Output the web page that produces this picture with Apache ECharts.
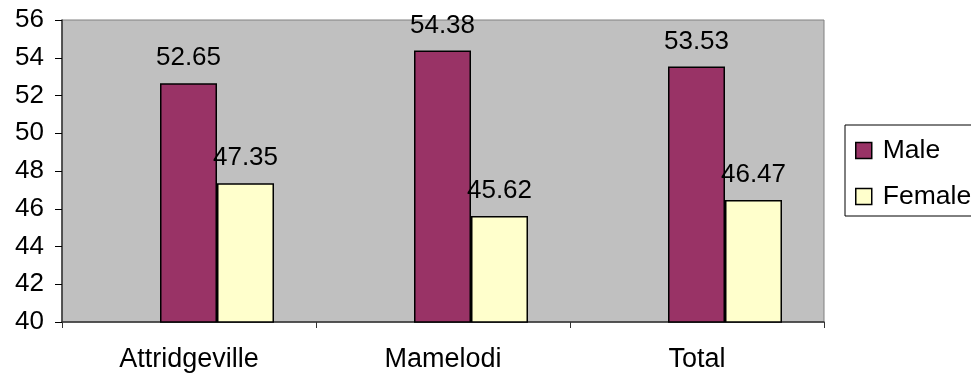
<!DOCTYPE html>
<html>
<head>
<meta charset="utf-8">
<script src="https://cdn.jsdelivr.net/npm/echarts@6/dist/echarts.min.js"></script>
<style>
  html, body { margin: 0; padding: 0; background: #fff; }
  #chart { width: 971px; height: 374px; }
</style>
</head>
<body>
<div id="chart"></div>
<script>
// Share of respondents by sex in each area (%)
const categories = ['Attridgeville', 'Mamelodi', 'Total'];
const maleValues = [52.65, 54.38, 53.53];
const femaleValues = [47.35, 45.62, 46.47];
const yTicks = { min: 40, max: 56, interval: 2 };

const FONT = 'Liberation Sans, Arial, sans-serif';
const FS = 26;

const chart = echarts.init(document.getElementById('chart'));

const labelStyle = {
  show: true,
  position: 'top',
  distance: 12,
  color: '#000',
  fontSize: FS,
  fontFamily: FONT,
  formatter: p => p.value.toFixed(2)
};

chart.setOption({
  animation: false,
  textStyle: { fontFamily: FONT },
  grid: {
    left: 62, right: 147, top: 20, bottom: 52,
    show: true,
    backgroundColor: '#c0c0c0',
    borderColor: '#808080',
    borderWidth: 1
  },
  legend: {
    orient: 'vertical',
    left: 845,
    top: 125,
    padding: [12, 60, 6, 10],
    itemGap: 19,
    itemWidth: 16,
    itemHeight: 16,
    icon: 'rect',
    borderColor: '#000',
    borderWidth: 1,
    backgroundColor: '#fff',
    textStyle: { fontSize: 26.5, color: '#000', fontFamily: FONT, padding: [0, 0, 0, 6] },
    itemStyle: { borderColor: '#000', borderWidth: 1.5 },
    data: ['Male', 'Female']
  },
  xAxis: {
    type: 'category',
    data: categories,
    boundaryGap: true,
    axisLine: { lineStyle: { color: '#333', width: 1.5 } },
    axisTick: { show: true, alignWithLabel: false, length: 6, lineStyle: { color: '#333' } },
    axisLabel: { fontSize: 27, color: '#000', margin: 24, fontFamily: FONT },
    splitLine: { show: false }
  },
  yAxis: {
    type: 'value',
    min: yTicks.min,
    max: yTicks.max,
    interval: yTicks.interval,
    axisLine: { show: true, lineStyle: { color: '#333', width: 1.5 } },
    axisTick: { show: true, length: 7, lineStyle: { color: '#000' } },
    axisLabel: { fontSize: FS, color: '#000', margin: 18, fontFamily: FONT },
    splitLine: { show: false }
  },
  series: [
    {
      // empty slot that sits left of the pair inside each category
      name: 'gap',
      type: 'bar',
      data: categories.map(() => null),
      barWidth: 56,
      barGap: '0%',
      silent: true,
      itemStyle: { color: 'transparent' }
    },
    {
      name: 'Male',
      type: 'bar',
      data: maleValues,
      barWidth: 57,
      barGap: '0%',
      itemStyle: { color: '#993366', borderColor: '#000', borderWidth: 1.5 },
      label: labelStyle
    },
    {
      name: 'Female',
      type: 'bar',
      data: femaleValues,
      barWidth: 57,
      barGap: '0%',
      itemStyle: { color: '#ffffcc', borderColor: '#000', borderWidth: 1.5 },
      label: labelStyle
    }
  ]
});
</script>
</body>
</html>
